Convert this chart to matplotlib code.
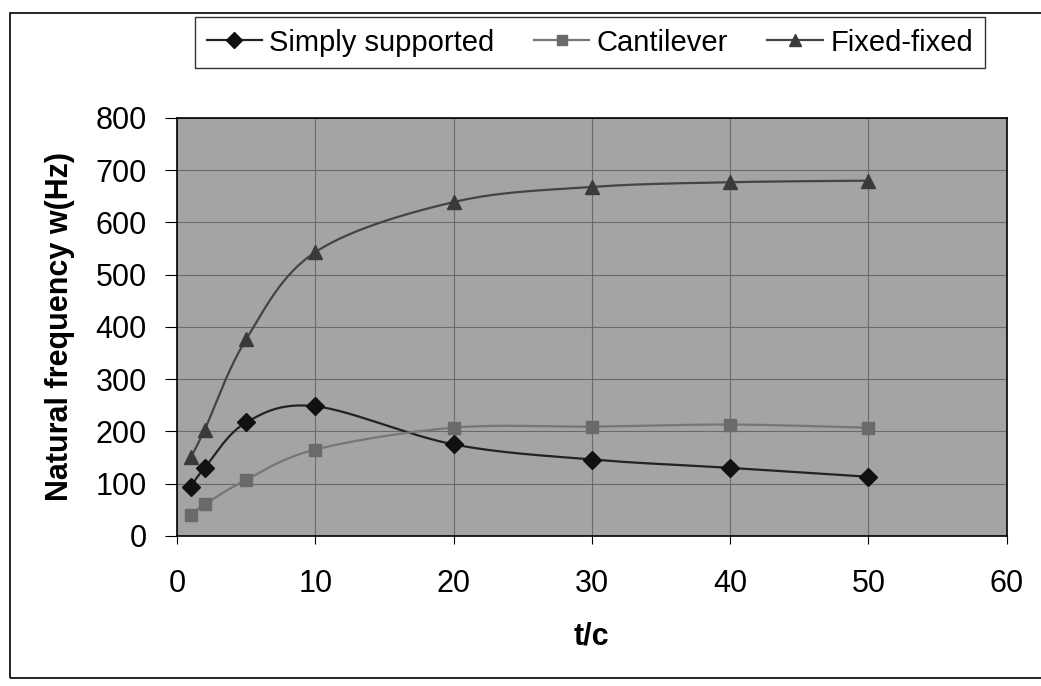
import numpy as np
import matplotlib
matplotlib.use("Agg")
import matplotlib.pyplot as plt
from matplotlib.patches import Rectangle

# values
tc = [1, 2, 5, 10, 20, 30, 40, 50]
simply = [94, 130, 217, 248, 175, 146, 130, 113]
cantilever = [40, 60, 107, 165, 207, 209, 213, 207]
fixed = [150, 203, 376, 543, 639, 668, 677, 680]

xticks = [0, 10, 20, 30, 40, 50, 60]
yticks = [0, 100, 200, 300, 400, 500, 600, 700, 800]


def smooth(x, y, n=30):
    # Excel-style smoothed line (Catmull-Rom through the points)
    p = np.column_stack([x, y]).astype(float)
    p = np.vstack([p[0], p, p[-1]])
    out = []
    t = np.linspace(0, 1, n)
    for i in range(1, len(p) - 2):
        p0, p1, p2, p3 = p[i - 1], p[i], p[i + 1], p[i + 2]
        c1 = p1 + (p2 - p0) / 6
        c2 = p2 - (p3 - p1) / 6
        seg = ((1 - t)[:, None] ** 3 * p1 + 3 * ((1 - t) ** 2 * t)[:, None] * c1
               + 3 * ((1 - t) * t ** 2)[:, None] * c2 + (t ** 3)[:, None] * p2)
        out.append(seg)
    s = np.vstack(out)
    return s[:, 0], s[:, 1]


plt.rcParams["font.family"] = ["Liberation Sans", "DejaVu Sans"]

fig = plt.figure(figsize=(10.41, 6.86), dpi=100)
ax = fig.add_axes([0.170, 0.219, 0.797, 0.609])
ax.set_facecolor("#a4a4a4")

series = [
    ("Simply supported", simply, "D", "#111111", "#222222", 9),
    ("Cantilever", cantilever, "s", "#6a6a6a", "#767676", 8),
    ("Fixed-fixed", fixed, "^", "#3a3a3a", "#444444", 10),
]
for name, vals, mk, col, lc, ms in series:
    sx, sy = smooth(tc, vals)
    ax.plot(sx, sy, "-", color=lc, lw=1.6, zorder=3)
    ax.plot(tc, vals, linestyle="none", marker=mk, ms=ms, color=col, zorder=4)
    # legend proxy
    ax.plot([], [], "-", color=lc, lw=1.6, marker=mk, ms=ms - 1, mfc=col, mec=col, label=name)

ax.set_xlim(0, 60)
ax.set_ylim(0, 800)
ax.set_xticks(xticks)
ax.set_yticks(yticks)
ax.grid(True, color="#6a6a6a", lw=0.8)
ax.set_axisbelow(True)
for sp in ax.spines.values():
    sp.set_color("black")
    sp.set_linewidth(1.2)
ax.tick_params(axis="x", direction="out", length=6, pad=18, labelsize=22)
ax.tick_params(axis="y", direction="out", length=8.6, pad=13, labelsize=22)

ax.set_xlabel("t/c", fontsize=22, fontweight="bold", labelpad=16)
ax.set_ylabel("Natural frequency w(Hz)", fontsize=22, fontweight="bold", labelpad=15)

leg = ax.legend(loc="upper left", bbox_to_anchor=(195 / 1041, 1 - 17 / 686),
                bbox_transform=fig.transFigure,
                ncol=3, frameon=True, fancybox=False, fontsize=21, handlelength=1.9,
                handletextpad=0.25, columnspacing=1.35, borderpad=0.4, borderaxespad=0)
leg.get_frame().set_edgecolor("black")
leg.get_frame().set_linewidth(1.0)

# outer chart border
fig.patches.append(Rectangle((0.010, 0.012), 1.2, 0.969, transform=fig.transFigure,
                             fill=False, edgecolor="black", lw=1.2))

fig.savefig("out.png", dpi=100)
